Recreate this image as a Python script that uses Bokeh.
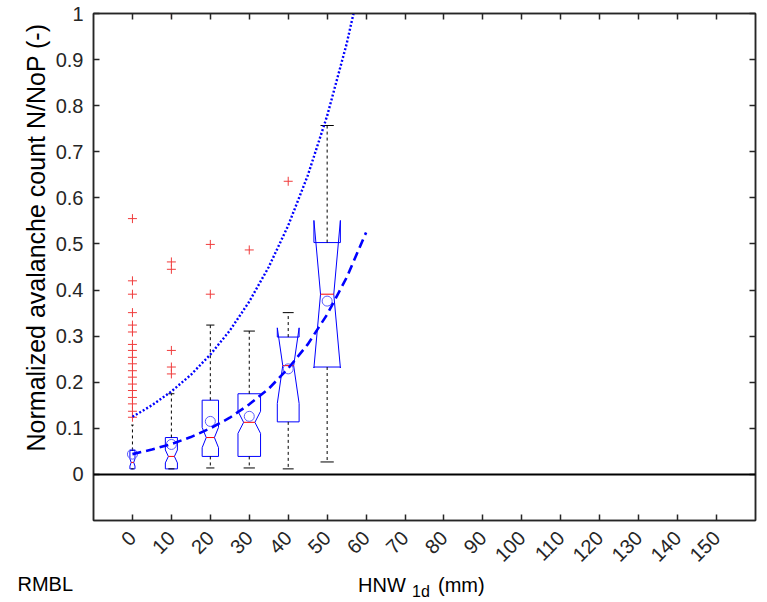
from bokeh.plotting import figure
from bokeh.models import Range1d, LinearAxis, FixedTicker, Label, Span
from bokeh.layouts import column, row
from bokeh.embed import file_html
from bokeh.resources import INLINE
import math

# ---------------- data ----------------
groups = [0, 10, 20, 30, 40, 50]
box_width = [1.3, 3.1, 4.2, 5.8, 5.6, 6.8]
q1 = [0.012, 0.012, 0.039, 0.039, 0.114, 0.233]
median = [0.026, 0.039, 0.080, 0.113, 0.236, 0.391]
q3 = [0.052, 0.080, 0.161, 0.175, 0.298, 0.503]
notch_half = [0.008, 0.014, 0.022, 0.024, 0.082, 0.160]
whisker_lo = [0.012, 0.012, 0.014, 0.014, 0.012, 0.027]
whisker_hi = [0.107, 0.175, 0.324, 0.311, 0.351, 0.757]
means = [0.044, 0.065, 0.115, 0.126, 0.229, 0.376]

outlier_x = [0] * 18 + [10] * 6 + [20] * 2 + [30] + [40]
outlier_y = [0.555, 0.420, 0.391, 0.351, 0.324, 0.309, 0.282, 0.269, 0.254,
             0.240, 0.225, 0.211, 0.196, 0.182, 0.167, 0.153, 0.137, 0.124,
             1.000, 0.461, 0.445, 0.269, 0.233, 0.218,
             0.499, 0.391,
             0.487,
             0.636]

fit_x = [0, 5, 10, 15, 20, 25, 30, 35, 40, 45, 50, 55, 60]
fit_y = [0.044, 0.054, 0.066, 0.081, 0.100, 0.123, 0.152, 0.186, 0.230, 0.282, 0.347, 0.427, 0.525]
upper_x = [0, 5, 10, 15, 20, 25, 30, 35, 40, 45, 50, 55, 60]
upper_y = [0.125, 0.150, 0.180, 0.216, 0.260, 0.312, 0.375, 0.450, 0.540, 0.648, 0.778, 0.934, 1.120]

x_ticks = list(range(0, 151, 10))
y_ticks = [0, 0.1, 0.2, 0.3, 0.4, 0.5, 0.6, 0.7, 0.8, 0.9, 1]
y_tick_labels = ["0", "0.1", "0.2", "0.3", "0.4", "0.5", "0.6", "0.7", "0.8", "0.9", "1"]

y_title = "Normalized avalanche count N/NoP (-)"
x_title_main, x_title_sub, x_title_unit = "HNW", "1d", "(mm)"
site_name = "RMBL"

FONT = "Liberation Sans"
AX = "#262626"

# ---------------- main plot ----------------
p = figure(width=715, height=573, x_range=Range1d(-10, 160), y_range=Range1d(-0.1, 1),
           output_backend="svg", toolbar_location=None,
           min_border_left=41, min_border_right=12, min_border_top=13, min_border_bottom=53)
p.xgrid.visible = False
p.ygrid.visible = False
p.outline_line_color = AX
p.outline_line_width = 1.5
p.background_fill_color = "white"
p.border_fill_color = "white"

for ax in (p.xaxis[0], p.yaxis[0]):
    ax.axis_line_color = AX
    ax.axis_line_width = 1.5
    ax.major_tick_line_color = AX
    ax.major_tick_line_width = 1.5
    ax.major_tick_in = 6
    ax.major_tick_out = 0
    ax.minor_tick_line_color = None
    ax.major_label_text_font = FONT
    ax.major_label_text_font_size = "20px"
    ax.major_label_text_color = AX

p.xaxis.ticker = FixedTicker(ticks=x_ticks)
p.xaxis.major_label_orientation = math.pi / 4
p.xaxis.major_label_standoff = 14
p.yaxis.ticker = FixedTicker(ticks=y_ticks)
p.yaxis.major_label_overrides = {t: s for t, s in zip(y_ticks, y_tick_labels)}
p.yaxis.major_label_standoff = 10

for side, ticks in (("above", x_ticks), ("right", y_ticks)):
    extra = LinearAxis(ticker=FixedTicker(ticks=ticks), major_label_text_font_size="1px",
                       major_label_text_color=None, major_label_standoff=0,
                       axis_line_color=AX, axis_line_width=1.5,
                       major_tick_line_color=AX, major_tick_line_width=1.5,
                       major_tick_in=6, major_tick_out=0, minor_tick_line_color=None)
    p.add_layout(extra, side)

# zero line
p.add_layout(Span(location=0, dimension="width", line_color="black", line_width=2))

# notched boxes
box_xs, box_ys = [], []
for g, w, a, m, b, n in zip(groups, box_width, q1, median, q3, notch_half):
    lo, hi = m - n, m + n
    xl, xr, ql, qr = g - w / 2, g + w / 2, g - w / 4, g + w / 4
    box_xs.append([xl, xl, ql, xl, xl, xr, xr, qr, xr, xr, xl])
    box_ys.append([a, lo, m, hi, b, b, hi, m, lo, a, a])
p.multi_line(box_xs, box_ys, line_color="#0000ff", line_width=1)

# whiskers
p.segment(x0=groups, y0=q3, x1=groups, y1=whisker_hi, line_color="black", line_width=1, line_dash="3 3")
p.segment(x0=groups, y0=q1, x1=groups, y1=whisker_lo, line_color="black", line_width=1, line_dash="3 3")
cap_l = [g - w / 4 for g, w in zip(groups, box_width)]
cap_r = [g + w / 4 for g, w in zip(groups, box_width)]
p.segment(x0=cap_l, y0=whisker_hi, x1=cap_r, y1=whisker_hi, line_color="black", line_width=1)
p.segment(x0=cap_l, y0=whisker_lo, x1=cap_r, y1=whisker_lo, line_color="black", line_width=1)

# medians
p.segment(x0=cap_l, y0=median, x1=cap_r, y1=median, line_color="#ff0000", line_width=1)

# outliers and means
p.scatter(outlier_x, outlier_y, marker="cross", size=9, line_color="#f03c3c", line_width=1)
p.scatter(groups, means, marker="circle", size=10, fill_color=None, line_color="#5b5bff", line_width=1)

# fit lines
p.line(upper_x, upper_y, line_color="#0000ff", line_width=2.4, line_dash="2 2")
p.line(fit_x, fit_y, line_color="#0000ff", line_width=2.6, line_dash="9 5")


# ---------------- text panels (left: y title, bottom: x title + site) ----------------
def text_panel(w, h):
    f = figure(width=w, height=h, x_range=Range1d(0, 1), y_range=Range1d(0, 1),
               output_backend="svg", toolbar_location=None,
               x_axis_location=None, y_axis_location=None,
               min_border_left=0, min_border_right=0, min_border_top=0, min_border_bottom=0)
    f.xgrid.visible = False
    f.ygrid.visible = False
    f.outline_line_color = None
    f.background_fill_color = "white"
    f.border_fill_color = "white"
    return f


def add_text(f, text, x, y, size, angle=0.0, align="left"):
    f.add_layout(Label(x=x, y=y, x_units="screen", y_units="screen", angle=angle,
                       text=text, text_font=FONT, text_font_size=size, text_color="black",
                       text_align=align, text_baseline="alphabetic"))


pl = text_panel(52, 573)
add_text(pl, y_title, 35.5, 283, "25px", angle=math.pi / 2, align="center")

pb = text_panel(767, 29)
add_text(pb, x_title_main, 357.5, 18, "20px")
add_text(pb, x_title_sub, 411.5, 11.5, "16px")
add_text(pb, x_title_unit, 437.5, 18, "20px")
add_text(pb, site_name, 17, 18.5, "20px")

layout = column(row(pl, p, spacing=0), pb, spacing=0)

open("out.html", "w").write(file_html(layout, INLINE))
